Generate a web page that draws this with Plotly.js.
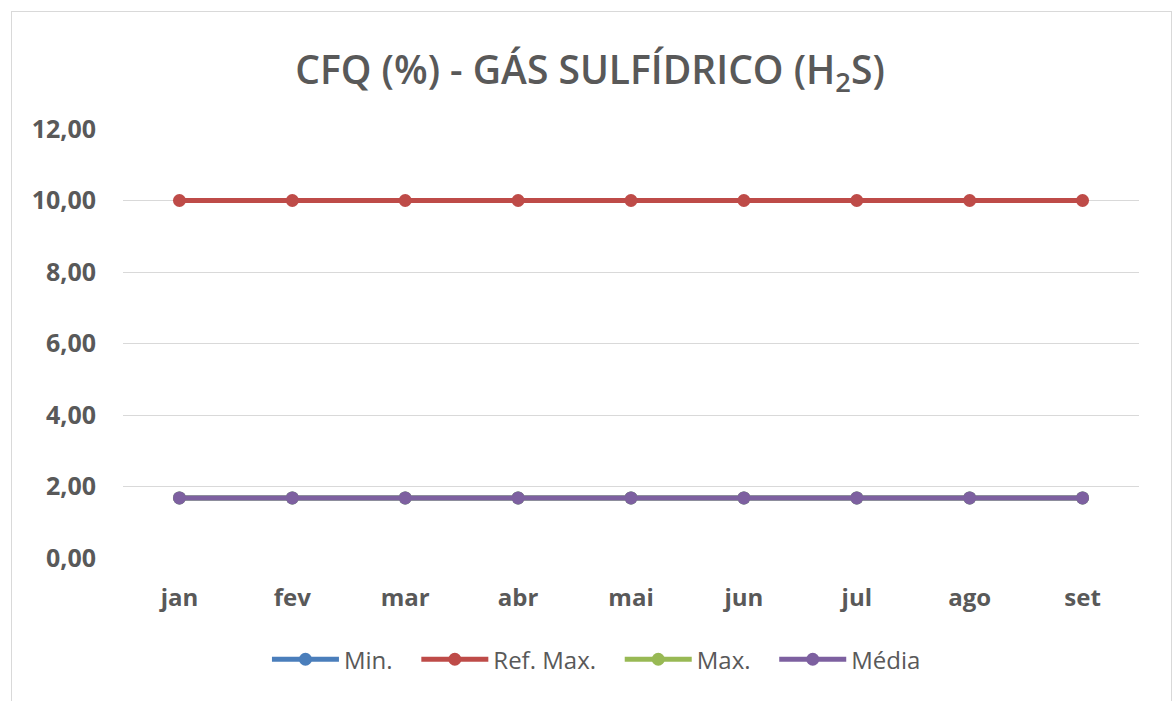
<!DOCTYPE html>
<html>
<head>
<meta charset="utf-8">
<script src="https://cdn.plot.ly/plotly-3.0.1.min.js"></script>
<style>
  html, body { margin: 0; padding: 0; background: #ffffff; }
  #wrap { position: relative; width: 1173px; height: 701px; }
  #chart { width: 1173px; height: 701px; }
  #frame { position: absolute; left: 11px; top: 11px; width: 1159px; height: 700px;
           border: 1px solid #d9d9d9; border-bottom: none; pointer-events: none; }
</style>
</head>
<body>
<div id="wrap">
  <div id="chart"></div>
  <div id="frame"></div>
</div>
<script>
const months = ['jan', 'fev', 'mar', 'abr', 'mai', 'jun', 'jul', 'ago', 'set'];
const seriesNames = ['Min.', 'Ref. Max.', 'Max.', 'Média'];
const minVals = [1.68, 1.68, 1.68, 1.68, 1.68, 1.68, 1.68, 1.68, 1.68];
const refMaxVals = [10, 10, 10, 10, 10, 10, 10, 10, 10];
const maxVals = [1.68, 1.68, 1.68, 1.68, 1.68, 1.68, 1.68, 1.68, 1.68];
const mediaVals = [1.68, 1.68, 1.68, 1.68, 1.68, 1.68, 1.68, 1.68, 1.68];
const yTicks = [0, 2, 4, 6, 8, 10, 12];

const FONT = 'Open Sans, Noto Sans, sans-serif';
const PAD = '\u00a0\u00a0\u00a0'; // spacing between legend entries

function series(name, y, color, pad) {
  return {
    type: 'scatter', mode: 'lines+markers', name: name + (pad ? PAD : ''), x: months, y: y,
    line: { color: color, width: 5 },
    marker: { color: color, size: 13, symbol: 'circle' },
    hoverinfo: 'skip'
  };
}

const data = [
  series(seriesNames[0], minVals, '#4a7ebb', true),
  series(seriesNames[1], refMaxVals, '#be4b48', true),
  series(seriesNames[2], maxVals, '#98b954', true),
  series(seriesNames[3], mediaVals, '#7d60a0', false)
];

const layout = {
  width: 1173, height: 701,
  paper_bgcolor: '#ffffff', plot_bgcolor: '#ffffff',
  margin: { l: 123, r: 34, t: 129, b: 143 },
  separators: ', ',
  showlegend: true,
  title: {
    text: 'CFQ (%) - GÁS SULFÍDRICO (H<sub>2</sub>S)',
    font: { family: FONT, size: 39, color: '#595959', weight: 600 },
    x: 0.503, xanchor: 'center', y: 0.9, yanchor: 'middle'
  },
  xaxis: {
    type: 'category', range: [-0.5, 8.5],
    showgrid: false, zeroline: false, showline: false,
    ticks: 'outside', ticklen: 18, tickcolor: 'rgba(0,0,0,0)',
    tickfont: { family: FONT, size: 24, color: '#595959', weight: 'bold' }
  },
  yaxis: {
    range: [0, 12], tickvals: yTicks, tickformat: '.2f',
    showgrid: true, gridcolor: '#d9d9d9', gridwidth: 1,
    zeroline: false, showline: false,
    ticks: 'outside', ticklen: 21, tickcolor: 'rgba(0,0,0,0)',
    tickfont: { family: FONT, size: 25, color: '#595959', weight: 'bold' }
  },
  legend: {
    orientation: 'h', x: 0.466, xanchor: 'center', y: -0.237, yanchor: 'middle',
    font: { family: FONT, size: 24, color: '#595959' },
    itemwidth: 67, tracegroupgap: 0, bgcolor: 'rgba(0,0,0,0)'
  }
};

Plotly.newPlot('chart', data, layout, { displayModeBar: false, staticPlot: true });
</script>
</body>
</html>
